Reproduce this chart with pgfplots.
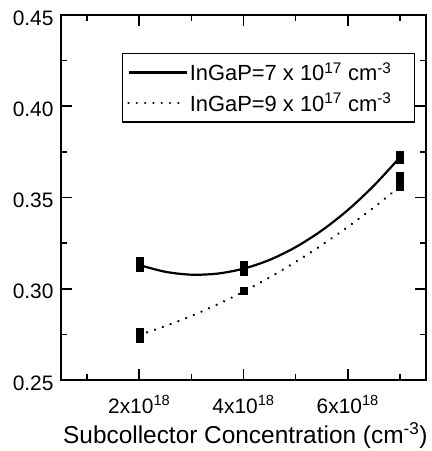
\documentclass[border=0pt]{standalone}
\usepackage{fontspec}
\setmainfont{Liberation Sans}
\usepackage{pgfplots}
\pgfplotsset{compat=1.18}
\begin{document}
\begin{tikzpicture}
\begin{axis}[
 at={(0,0)}, anchor=south west,
 width=365bp, height=365bp, scale only axis,
 xmin=0.5, xmax=7.5, ymin=0.25, ymax=0.45,
 xtick={2,4,6},
 xticklabels={2x10\textsuperscript{18},4x10\textsuperscript{18},6x10\textsuperscript{18}},
 minor xtick={1,3,5,7},
 ytick={0.25,0.30,0.35,0.40,0.45},
 yticklabels={0.25,0.30,0.35,0.40,0.45},
 minor ytick={0.275,0.325,0.375,0.425},
 tick align=inside,
 major tick length=11bp, minor tick length=6bp,
 tick style={line width=1.5bp, black},
 axis line style={line width=1.8bp},
 ticklabel style={font=\fontsize{21}{24}\selectfont},
 xticklabel style={anchor=base, yshift=-33bp},
 yticklabel style={xshift=-4bp, yshift=-3bp},
 xlabel={Subcollector Concentration (cm\textsuperscript{-3})},
 xlabel style={font=\fontsize{24.5}{28}\selectfont, at={(axis description cs:0.505,0)}, anchor=base, yshift=-63bp},
 legend style={at={(0.970,0.896)}, anchor=north east, draw=black, line width=1.2bp,
   font=\fontsize{22}{26}\selectfont, row sep=7bp, inner xsep=5bp, inner ysep=7bp,
   cells={anchor=west}},
 legend cell align=left,
 legend image code/.code={\draw[#1] (0bp,0bp) -- (58bp,0bp);},
]
\addplot[black, line width=2.2bp, smooth]
 coordinates {(2,0.3130) (2.5,0.3093) (3,0.3077) (3.5,0.3083) (4,0.3110) (4.5,0.3158) (5,0.3228) (5.5,0.3319) (6,0.3431) (6.5,0.3565) (7,0.3720)};
\addlegendentry{InGaP=7 x 10\textsuperscript{17} cm\textsuperscript{-3}\hspace*{16bp}}
\addplot[black, line width=2.6bp, line cap=round, dash pattern=on 0.01bp off 8.3bp, smooth]
 coordinates {(2,0.2747) (2.5,0.2795) (3,0.2851) (3.5,0.2914) (4,0.2984) (4.5,0.3062) (5,0.3147) (5.5,0.3239) (6,0.3339) (6.5,0.3446) (7,0.3560)};
\addlegendentry{InGaP=9 x 10\textsuperscript{17} cm\textsuperscript{-3}\hspace*{16bp}}
\addplot[only marks, mark=square*, mark size=3.5bp, black, forget plot]
 coordinates {(2,0.3156) (2,0.3113) (4,0.3133) (4,0.3095) (7,0.3732) (7,0.3708)};
\addplot[only marks, mark=square*, mark size=3.5bp, black, forget plot]
 coordinates {(2,0.2766) (2,0.2727) (4,0.2988) (7,0.3622) (7,0.3590) (7,0.3560)};
\end{axis}
\pgfresetboundingbox
\path[use as bounding box] (-61bp,-71bp) rectangle (371bp,380bp);
\end{tikzpicture}
\end{document}
